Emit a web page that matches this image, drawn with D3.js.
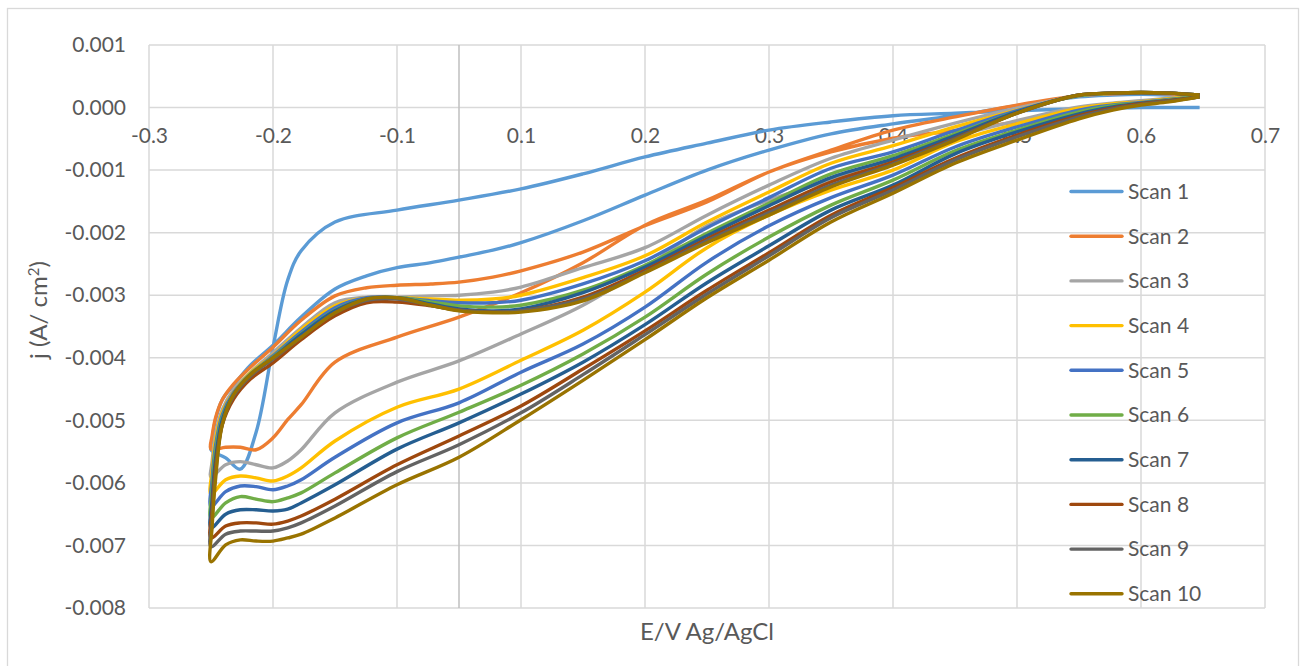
<!DOCTYPE html>
<html>
<head>
  <meta charset="utf-8">
  <title>CV scans</title>
  <script src="https://d3js.org/d3.v7.min.js"></script>

<style type="text/css">

body {
  margin: 0;
  background: #fff;
}

svg text {
  font-family: Lato, "Open Sans", sans-serif;
  fill: #595959;
}

.grid line {
  stroke: #d9d9d9;
  stroke-width: 1.5;
}

.axis path,
.axis line {
  display: none;
}

.scan {
  fill: none;
  stroke-width: 3.4;
  stroke-linejoin: round;
}

</style>
</head>
<body>

<svg id="chart" width="1306" height="666"></svg>

<script type="text/javascript">

// potential grid of the negative sweep (0.657 V down to the vertex) and of the positive sweep
const potentialDown = [0.657, 0.63, 0.605, 0.58, 0.55, 0.495, 0.44, 0.385, 0.33, 0.275, 0.22, 0.165,
  0.11, 0.055, 0, -0.055, -0.11, -0.14, -0.152, -0.165, -0.18, -0.194, -0.207, -0.22];
const potentialUp = [-0.22, -0.219, -0.216, -0.21, -0.2, -0.185, -0.165, -0.14, -0.11, -0.082, -0.055,
  -0.025, 0, 0.03, 0.055, 0.11, 0.165, 0.22, 0.275, 0.33, 0.385, 0.44, 0.495, 0.55, 0.58, 0.605, 0.63, 0.657];

const scanNames = ['Scan 1', 'Scan 2', 'Scan 3', 'Scan 4', 'Scan 5', 'Scan 6', 'Scan 7', 'Scan 8', 'Scan 9', 'Scan 10'];
const scanColors = ['#5b9bd5', '#ed7d31', '#a5a5a5', '#ffc000', '#4472c4', '#70ad47', '#255e91', '#9e480e', '#636363', '#997300'];

// current density (A/cm2), one row per scan
const currentDown = [
  [0, 0, 0, -0.00001, -0.00002, -0.00005, -0.00009, -0.00013, -0.00023, -0.00036, -0.00057, -0.00079, -0.00106, -0.00130, -0.00148, -0.00164, -0.00183, -0.00229, -0.00276, -0.00383, -0.00519, -0.00578, -0.00560, -0.00547],
  [0.00017, 0.00012, 0.00006, 0.00001, -0.00007, -0.00023, -0.00037, -0.00049, -0.00071, -0.00103, -0.00148, -0.00188, -0.00248, -0.00296, -0.00335, -0.00367, -0.00407, -0.00475, -0.00499, -0.00528, -0.00547, -0.00543, -0.00543, -0.00546],
  [0.00019, 0.00015, 0.00011, 0.00007, 0.00001, -0.00021, -0.00047, -0.00084, -0.00116, -0.00148, -0.00189, -0.00256, -0.00316, -0.00362, -0.00405, -0.00439, -0.00488, -0.00547, -0.00565, -0.00576, -0.00571, -0.00566, -0.00571, -0.00591],
  [0.00019, 0.00014, 0.00009, 0.00006, -0.00001, -0.00026, -0.00055, -0.00100, -0.00132, -0.00172, -0.00224, -0.00295, -0.00356, -0.00404, -0.00450, -0.00479, -0.00533, -0.00576, -0.00589, -0.00597, -0.00592, -0.00589, -0.00595, -0.00618],
  [0.00018, 0.00013, 0.00008, 0.00004, -0.00004, -0.00031, -0.00063, -0.00108, -0.00144, -0.00189, -0.00247, -0.00319, -0.00378, -0.00423, -0.00472, -0.00504, -0.00559, -0.00595, -0.00605, -0.00611, -0.00606, -0.00605, -0.00614, -0.00638],
  [0.00018, 0.00012, 0.00007, 0.00003, -0.00007, -0.00036, -0.00069, -0.00116, -0.00156, -0.00207, -0.00266, -0.00335, -0.00394, -0.00444, -0.00487, -0.00528, -0.00584, -0.00616, -0.00624, -0.00630, -0.00626, -0.00622, -0.00632, -0.00656],
  [0.00017, 0.00011, 0.00007, 0.00001, -0.00010, -0.00039, -0.00074, -0.00124, -0.00164, -0.00221, -0.00280, -0.00347, -0.00407, -0.00458, -0.00504, -0.00546, -0.00603, -0.00632, -0.00642, -0.00645, -0.00643, -0.00643, -0.00650, -0.00672],
  [0.00017, 0.00011, 0.00006, -0.00001, -0.00013, -0.00044, -0.00081, -0.00128, -0.00172, -0.00232, -0.00292, -0.00357, -0.00418, -0.00477, -0.00525, -0.00571, -0.00626, -0.00653, -0.00661, -0.00666, -0.00664, -0.00664, -0.00669, -0.00688],
  [0.00017, 0.00010, 0.00005, -0.00002, -0.00015, -0.00047, -0.00084, -0.00132, -0.00176, -0.00237, -0.00298, -0.00363, -0.00427, -0.00488, -0.00539, -0.00582, -0.00637, -0.00664, -0.00672, -0.00677, -0.00677, -0.00677, -0.00682, -0.00702],
  [0.00017, 0.00009, 0.00004, -0.00004, -0.00018, -0.00052, -0.00089, -0.00137, -0.00183, -0.00244, -0.00304, -0.00371, -0.00436, -0.00499, -0.00559, -0.00603, -0.00656, -0.00682, -0.00688, -0.00693, -0.00693, -0.00691, -0.00699, -0.00726]
];

const currentUp = [
  [-0.00547, -0.00531, -0.00499, -0.00467, -0.00444, -0.00412, -0.00380, -0.00335, -0.00290, -0.00269, -0.00256, -0.00248, -0.00239, -0.00228, -0.00216, -0.00181, -0.00140, -0.00100, -0.00068, -0.00042, -0.00026, -0.00013, 0.00003, 0.00017, 0.00020, 0.00021, 0.00020, 0.00019],
  [-0.00546, -0.00525, -0.00496, -0.00467, -0.00442, -0.00415, -0.00383, -0.00340, -0.00301, -0.00288, -0.00284, -0.00282, -0.00279, -0.00271, -0.00261, -0.00231, -0.00189, -0.00151, -0.00103, -0.00068, -0.00036, -0.00015, 0.00004, 0.00019, 0.00022, 0.00023, 0.00022, 0.00019],
  [-0.00591, -0.00566, -0.00523, -0.00483, -0.00451, -0.00423, -0.00392, -0.00352, -0.00312, -0.00303, -0.00303, -0.00301, -0.00300, -0.00295, -0.00287, -0.00256, -0.00224, -0.00172, -0.00124, -0.00081, -0.00052, -0.00025, -0.00001, 0.00019, 0.00023, 0.00023, 0.00023, 0.00020],
  [-0.00618, -0.00579, -0.00531, -0.00487, -0.00455, -0.00424, -0.00396, -0.00355, -0.00317, -0.00304, -0.00304, -0.00306, -0.00308, -0.00306, -0.00300, -0.00272, -0.00237, -0.00183, -0.00135, -0.00089, -0.00061, -0.00031, -0.00004, 0.00019, 0.00023, 0.00023, 0.00023, 0.00020],
  [-0.00638, -0.00595, -0.00541, -0.00491, -0.00456, -0.00426, -0.00397, -0.00359, -0.00320, -0.00304, -0.00304, -0.00309, -0.00312, -0.00312, -0.00308, -0.00282, -0.00245, -0.00192, -0.00144, -0.00097, -0.00071, -0.00037, -0.00005, 0.00019, 0.00023, 0.00023, 0.00023, 0.00020],
  [-0.00656, -0.00611, -0.00551, -0.00496, -0.00458, -0.00426, -0.00399, -0.00362, -0.00324, -0.00306, -0.00304, -0.00311, -0.00317, -0.00319, -0.00316, -0.00292, -0.00252, -0.00201, -0.00153, -0.00106, -0.00077, -0.00042, -0.00007, 0.00019, 0.00023, 0.00024, 0.00023, 0.00020],
  [-0.00672, -0.00627, -0.00563, -0.00499, -0.00459, -0.00427, -0.00400, -0.00363, -0.00325, -0.00306, -0.00304, -0.00314, -0.00322, -0.00325, -0.00322, -0.00296, -0.00255, -0.00205, -0.00157, -0.00112, -0.00082, -0.00045, -0.00007, 0.00020, 0.00023, 0.00024, 0.00023, 0.00020],
  [-0.00688, -0.00643, -0.00576, -0.00507, -0.00466, -0.00434, -0.00408, -0.00371, -0.00333, -0.00312, -0.00311, -0.00317, -0.00324, -0.00327, -0.00325, -0.00303, -0.00260, -0.00210, -0.00164, -0.00119, -0.00087, -0.00049, -0.00009, 0.00020, 0.00023, 0.00024, 0.00023, 0.00020],
  [-0.00702, -0.00656, -0.00586, -0.00506, -0.00461, -0.00429, -0.00402, -0.00367, -0.00328, -0.00308, -0.00306, -0.00316, -0.00324, -0.00327, -0.00325, -0.00306, -0.00263, -0.00213, -0.00168, -0.00124, -0.00090, -0.00050, -0.00009, 0.00020, 0.00023, 0.00024, 0.00023, 0.00020],
  [-0.00726, -0.00670, -0.00595, -0.00507, -0.00459, -0.00427, -0.00400, -0.00367, -0.00328, -0.00306, -0.00304, -0.00316, -0.00325, -0.00328, -0.00327, -0.00309, -0.00264, -0.00216, -0.00172, -0.00127, -0.00092, -0.00052, -0.00009, 0.00020, 0.00023, 0.00024, 0.00023, 0.00020]
];

// axis ticks (the x axis labels are rounded to one decimal, as in the original)
const xTickValues = [-0.275, -0.165, -0.055, 0.055, 0.165, 0.275, 0.385, 0.495, 0.605, 0.715];
const xTickLabels = ['-0.3', '-0.2', '-0.1', '0.1', '0.2', '0.3', '0.4', '0.5', '0.6', '0.7'];
const yTickValues = [0.001, 0, -0.001, -0.002, -0.003, -0.004, -0.005, -0.006, -0.007, -0.008];


let svg = d3.select('#chart');

let x = d3.scaleLinear()
  .domain([-0.275, 0.715])
  .range([149, 1265]);

let y = d3.scaleLinear()
  .domain([-0.008, 0.001])
  .range([608, 45]);

// chart border
svg.append('rect')
  .attr('x', 7.5)
  .attr('y', 8.5)
  .attr('width', 1291)
  .attr('height', 670)
  .attr('fill', 'none')
  .attr('stroke', '#d9d9d9')
  .attr('stroke-width', 1.3);

// gridlines
let grid = svg.append('g').attr('class', 'grid');

grid.selectAll('line.h')
  .data(yTickValues)
  .enter()
  .append('line')
  .attr('class', 'h')
  .attr('x1', x.range()[0])
  .attr('x2', x.range()[1])
  .attr('y1', d => y(d))
  .attr('y2', d => y(d));

grid.selectAll('line.v')
  .data(xTickValues)
  .enter()
  .append('line')
  .attr('class', 'v')
  .attr('x1', d => x(d))
  .attr('x2', d => x(d))
  .attr('y1', y.range()[1])
  .attr('y2', y.range()[0]);

// value axis crosses at E = 0
svg.append('line')
  .attr('x1', x(0))
  .attr('x2', x(0))
  .attr('y1', y.range()[1])
  .attr('y2', y.range()[0])
  .attr('stroke', '#bfbfbf')
  .attr('stroke-width', 1.5);

// axes labels
let xAxis = d3.axisBottom(x)
  .tickValues(xTickValues)
  .tickFormat((d, i) => xTickLabels[i])
  .tickSize(0)
  .tickPadding(21);

svg.append('g')
  .attr('class', 'axis')
  .attr('transform', 'translate(0,' + y(0) + ')')
  .call(xAxis)
  .selectAll('text')
  .style('font-size', '21px');

let yAxis = d3.axisLeft(y)
  .tickValues(yTickValues)
  .tickFormat(d => d.toFixed(3))
  .tickSize(0)
  .tickPadding(23);

svg.append('g')
  .attr('class', 'axis')
  .attr('transform', 'translate(' + x.range()[0] + ',0)')
  .call(yAxis)
  .selectAll('text')
  .style('font-size', '21px');

// scans
let line = d3.line()
  .x(d => x(d[0]))
  .y(d => y(d[1]))
  .curve(d3.curveCatmullRom.alpha(0.5));

let scans = scanNames.map(function(name, s) {
  let down = potentialDown.map((e, i) => [e, currentDown[s][i]]);
  let up = potentialUp.map((e, i) => [e, currentUp[s][i]]).slice(1);
  return { name: name, color: scanColors[s], points: down.concat(up) };
});

svg.append('g')
  .selectAll('path')
  .data(scans)
  .enter()
  .append('path')
  .attr('class', 'scan')
  .attr('stroke', d => d.color)
  .attr('d', d => line(d.points));

// axis titles
svg.append('text')
  .attr('x', (x.range()[0] + x.range()[1]) / 2)
  .attr('y', 640)
  .attr('text-anchor', 'middle')
  .style('font-size', '24px')
  .text('E/V Ag/AgCl');

let yTitle = svg.append('text')
  .attr('transform', 'translate(47,310) rotate(-90)')
  .attr('text-anchor', 'middle')
  .style('font-size', '24px');

yTitle.append('tspan').text('j (A/ cm');
yTitle.append('tspan')
  .attr('dy', -8)
  .style('font-size', '15px')
  .text('2');
yTitle.append('tspan')
  .attr('dy', 8)
  .text(')');

// legend
let legend = svg.append('g')
  .selectAll('g')
  .data(scans)
  .enter()
  .append('g')
  .attr('transform', (d, i) => 'translate(1070,' + (191.5 + i * 44.7) + ')');

legend.append('line')
  .attr('x1', 1)
  .attr('x2', 52)
  .attr('stroke', d => d.color)
  .attr('stroke-width', 3.4)
  .attr('stroke-linecap', 'round');

legend.append('text')
  .attr('x', 58)
  .attr('dy', '0.35em')
  .style('font-size', '21px')
  .text(d => d.name);

</script>

</body>
</html>
